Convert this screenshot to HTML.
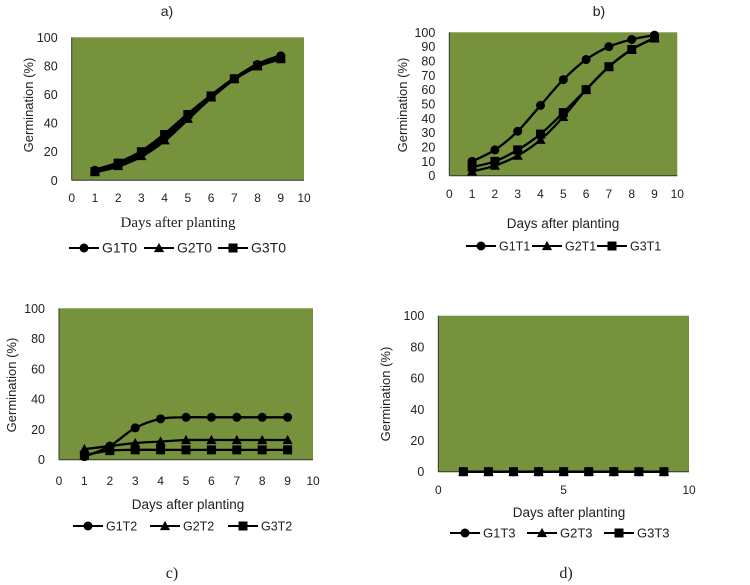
<!DOCTYPE html>
<html lang="en">
<head>
<meta charset="utf-8">
<title>Germination charts</title>
<style>
html,body{margin:0;padding:0;background:#fff;}
svg{display:block;}
text{font-family:"Liberation Sans",sans-serif;fill:#222;}
</style>
</head>
<body>
<svg id="figure" width="750" height="585" viewBox="0 0 750 585" xmlns="http://www.w3.org/2000/svg"></svg>
<script>
const days = [1, 2, 3, 4, 5, 6, 7, 8, 9];

const seriesNamesA = ['G1T0', 'G2T0', 'G3T0'];
const g1t0 = [7, 12, 19, 30, 45, 59, 71, 81, 87];
const g2t0 = [6, 10, 17, 28, 43, 58, 71, 80, 86];
const g3t0 = [6, 12, 20, 32, 46, 59, 71, 80, 85];

const seriesNamesB = ['G1T1', 'G2T1', 'G3T1'];
const g1t1 = [10, 18, 31, 49, 67, 81, 90, 95, 98];
const g2t1 = [3, 7, 14, 25, 41, 60, 76, 88, 96];
const g3t1 = [6, 10, 18, 29, 44, 60, 76, 88, 96];

const seriesNamesC = ['G1T2', 'G2T2', 'G3T2'];
const g1t2 = [2, 9, 21, 27, 28, 28, 28, 28, 28];
const g2t2 = [7, 9, 11, 12, 13, 13, 13, 13, 13];
const g3t2 = [3, 6, 6.5, 6.5, 6.5, 6.5, 6.5, 6.5, 6.5];

const seriesNamesD = ['G1T3', 'G2T3', 'G3T3'];
const g1t3 = [0, 0, 0, 0, 0, 0, 0, 0, 0];
const g2t3 = [0, 0, 0, 0, 0, 0, 0, 0, 0];
const g3t3 = [0, 0, 0, 0, 0, 0, 0, 0, 0];

const xTicksFull = [0, 1, 2, 3, 4, 5, 6, 7, 8, 9, 10];
const xTicksSparse = [0, 5, 10];
const yTicks20 = [0, 20, 40, 60, 80, 100];
const yTicks10 = [0, 10, 20, 30, 40, 50, 60, 70, 80, 90, 100];

const panels = [
  {id:'a', left:71.7, right:304, top:37.3, bottom:180.3, names:seriesNamesA, values:[g1t0,g2t0,g3t0], xTicks:xTicksFull, yTicks:yTicks20,
   sw:3.5, r:4.5, xTickY:202, xTitleX:178, xTitleY:227, xTitleSerif:true, yTitleX:33, yTitleY:105,
   legendY:248, legendX:[69,144,218], legendSize:14, caption:'a)', capX:167, capY:16, capSerif:false, yLabelDX:-14},
  {id:'b', left:449.3, right:677.3, top:32.3, bottom:175.7, names:seriesNamesB, values:[g1t1,g2t1,g3t1], xTicks:xTicksFull, yTicks:yTicks10,
   sw:2.3, r:4.5, xTickY:198, xTitleX:563, xTitleY:228, xTitleSerif:false, yTitleX:407, yTitleY:105,
   legendY:246, legendX:[466,532,597], legendSize:12.5, caption:'b)', capX:599, capY:16, capSerif:false, yLabelDX:-14},
  {id:'c', left:59, right:313, top:308.3, bottom:459.7, names:seriesNamesC, values:[g1t2,g2t2,g3t2], xTicks:xTicksFull, yTicks:yTicks20,
   sw:2.3, r:4.5, xTickY:485, xTitleX:188, xTitleY:509, xTitleSerif:false, yTitleX:16, yTitleY:385,
   legendY:526, legendX:[73,150,228], legendSize:12.5, caption:'c)', capX:172, capY:578, capSerif:true, yLabelDX:-14},
  {id:'d', left:438.3, right:689, top:315.7, bottom:471.7, names:seriesNamesD, values:[g1t3,g2t3,g3t3], xTicks:xTicksSparse, yTicks:yTicks20,
   sw:2.3, r:4.5, xTickY:494, xTitleX:569, xTitleY:517, xTitleSerif:false, yTitleX:390, yTitleY:394,
   legendY:533, legendX:[450,527,604], legendSize:13, caption:'d)', capX:566, capY:578, capSerif:true, yLabelDX:-14}
];

const NS = 'http://www.w3.org/2000/svg';
const root = document.getElementById('figure');

function make(parent, tag, attrs, text) {
  const el = document.createElementNS(NS, tag);
  Object.keys(attrs).forEach(function (k) { el.setAttribute(k, attrs[k]); });
  if (text !== undefined) el.textContent = text;
  parent.appendChild(el);
  return el;
}

function smoothPath(pts) {
  let d = 'M' + pts[0][0] + ' ' + pts[0][1];
  for (let i = 0; i < pts.length - 1; i++) {
    const p0 = pts[Math.max(i - 1, 0)];
    const p1 = pts[i];
    const p2 = pts[i + 1];
    const p3 = pts[Math.min(i + 2, pts.length - 1)];
    const c1x = p1[0] + (p2[0] - p0[0]) / 6;
    const c1y = p1[1] + (p2[1] - p0[1]) / 6;
    const c2x = p2[0] - (p3[0] - p1[0]) / 6;
    const c2y = p2[1] - (p3[1] - p1[1]) / 6;
    d += ' C' + c1x + ' ' + c1y + ' ' + c2x + ' ' + c2y + ' ' + p2[0] + ' ' + p2[1];
  }
  return d;
}

function drawMarker(parent, kind, x, y, r) {
  let el;
  if (kind === 0) {
    el = make(parent, 'circle', {cx:x, cy:y, r:r, fill:'#000'});
  } else if (kind === 1) {
    const s = r + 0.6;
    el = make(parent, 'polygon', {points:(x - s) + ',' + (y + s * 0.8) + ' ' + (x + s) + ',' + (y + s * 0.8) + ' ' + x + ',' + (y - s), fill:'#000'});
  } else {
    el = make(parent, 'rect', {x:x - r, y:y - r, width:2 * r, height:2 * r, fill:'#000'});
  }
  return el;
}

panels.forEach(function (p) {
  const g = make(root, 'g', {});
  
  

  const xs = function (v) { return p.left + (v / 10) * (p.right - p.left); };
  const ys = function (v) { return p.bottom - (v / 100) * (p.bottom - p.top); };

  const bg = make(g, 'rect', {x:p.left, y:p.top, width:p.right - p.left, height:p.bottom - p.top, fill:'#76923c'});
  
  

  const yAxis = make(g, 'line', {x1:p.left, y1:p.top, x2:p.left, y2:p.bottom, stroke:'#333', 'stroke-width':1});
  
  
  const xAxis = make(g, 'line', {x1:p.left, y1:p.bottom, x2:p.right, y2:p.bottom, stroke:'#333', 'stroke-width':1});
  
  

  p.yTicks.forEach(function (t) {
    const el = make(g, 'text', {x:p.left + p.yLabelDX, y:ys(t) + 4.5, 'text-anchor':'end', 'font-size':12.5}, String(t));
    
    
  });
  p.xTicks.forEach(function (t) {
    const el = make(g, 'text', {x:xs(t), y:p.xTickY, 'text-anchor':'middle', 'font-size':12}, String(t));
    
    
  });

  const xTitle = make(g, 'text', {x:p.xTitleX, y:p.xTitleY, 'text-anchor':'middle', 'font-size':p.xTitleSerif ? 15 : 13.5}, 'Days after planting');
  if (p.xTitleSerif) xTitle.setAttribute('style', 'font-family:"Liberation Serif",serif');
  
  

  const yTitle = make(g, 'text', {x:0, y:0, 'text-anchor':'middle', 'font-size':13, transform:'translate(' + p.yTitleX + ' ' + p.yTitleY + ') rotate(-90)'}, 'Germination (%)');
  
  

  p.values.forEach(function (vals, si) {
    const sg = make(g, 'g', {});
    
    
    const pts = vals.map(function (v, i) { return [xs(days[i]), ys(v)]; });
    make(sg, 'path', {d:smoothPath(pts), fill:'none', stroke:'#000', 'stroke-width':p.sw});
    pts.forEach(function (pt) {
      const m = drawMarker(sg, si, pt[0], pt[1], p.r);
      
      
    });
  });

  p.names.forEach(function (name, si) {
    const lg = make(g, 'g', {});
    
    
    const lx = p.legendX[si];
    make(lg, 'line', {x1:lx, y1:p.legendY, x2:lx + 30, y2:p.legendY, stroke:'#000', 'stroke-width':2});
    drawMarker(lg, si, lx + 15, p.legendY, 4.5);
    make(lg, 'text', {x:lx + 33, y:p.legendY + 4.5, 'font-size':p.legendSize}, name);
  });

  const cap = make(g, 'text', {x:p.capX, y:p.capY, 'text-anchor':'middle', 'font-size':p.capSerif ? 16 : 14}, p.caption);
  if (p.capSerif) cap.setAttribute('style', 'font-family:"Liberation Serif",serif');
  
  
});
</script>
</body>
</html>
